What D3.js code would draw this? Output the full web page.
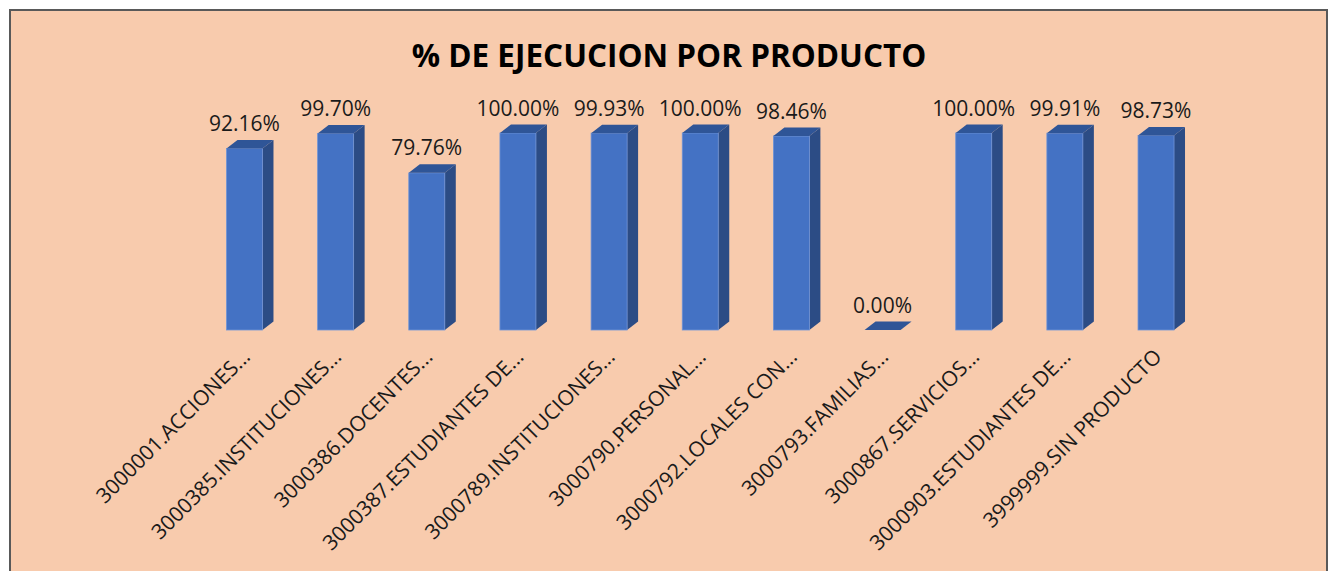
<!DOCTYPE html>
<html><head><meta charset="utf-8">
<script src="https://cdn.jsdelivr.net/npm/d3@7/dist/d3.min.js"></script>
<style>html,body{margin:0;padding:0;background:#fff;overflow:hidden}</style>
</head><body>
<svg id="chart" width="1330" height="571"></svg>
<script>
const title = "% DE EJECUCION POR PRODUCTO";
const categories = ["3000001.ACCIONES...","3000385.INSTITUCIONES...","3000386.DOCENTES...","3000387.ESTUDIANTES DE...","3000789.INSTITUCIONES...","3000790.PERSONAL...","3000792.LOCALES CON...","3000793.FAMILIAS...","3000867.SERVICIOS...","3000903.ESTUDIANTES DE...","3999999.SIN PRODUCTO"];
const values = [92.16, 99.70, 79.76, 100.00, 99.93, 100.00, 98.46, 0.00, 100.00, 99.91, 98.73];

const svg = d3.select("#chart");
svg.append("rect").attr("x",10).attr("y",10).attr("width",1317).attr("height",620)
  .attr("fill","#F8CBAD").attr("stroke","#595959").attr("stroke-width",2);

svg.append("text").attr("x",669).attr("y",67).attr("text-anchor","middle")
  .attr("font-family","'Open Sans', sans-serif").attr("font-weight","bold")
  .attr("font-size",31.5).attr("fill","#000").text(title);

const x = d3.scaleBand().domain(categories).range([198.9, 1201.6]).paddingInner(0).paddingOuter(0);
const y = d3.scaleLinear().domain([0,100]).range([330,133]);
const bw = 36, dx = 11, dy = 8.5;

const g = svg.append("g");
categories.forEach((c,i)=>{
  const cx = x(c) + x.bandwidth()/2;
  const x0 = cx - bw/2, x1 = cx + bw/2;
  const yt = y(values[i]), yb = y(0);
  g.append("polygon").attr("points",[[x1,yt],[x1+dx,yt-dy],[x1+dx,yb-dy],[x1,yb]].map(p=>p.join(",")).join(" "))
    .attr("fill","#2C4C85");
  if (yb - yt > 0.5) {
    g.append("rect").attr("x",x0).attr("y",yt).attr("width",bw).attr("height",yb-yt)
      .attr("fill","#4472C4").attr("stroke","#6F93D6").attr("stroke-width",0.8);
  }
  g.append("polygon").attr("points",[[x0,yt],[x0+dx,yt-dy],[x1+dx,yt-dy],[x1,yt]].map(p=>p.join(",")).join(" "))
    .attr("fill","#2F5597");
  g.append("text").attr("x",cx).attr("y",yt-dy-9).attr("text-anchor","middle")
    .attr("font-family","'Open Sans', sans-serif").attr("font-size",21).attr("fill","#1a1a1a")
    .text(values[i].toFixed(2)+"%");
  const lx = cx + 7, ly = 358;
  g.append("text").attr("transform",`translate(${lx},${ly}) rotate(-45)`)
    .attr("text-anchor","end")
    .attr("font-family","'Open Sans', sans-serif").attr("font-size",21).attr("fill","#1a1a1a")
    .text(c);
});
</script>
</body></html>
